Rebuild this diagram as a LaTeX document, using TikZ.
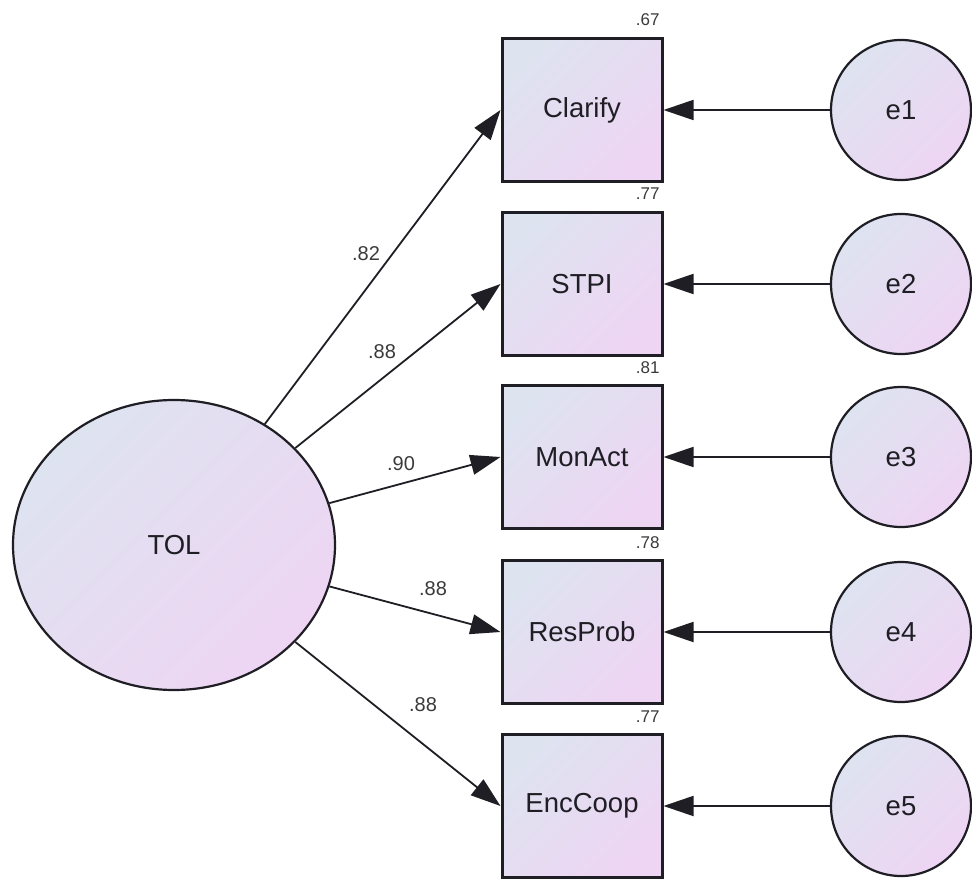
\documentclass[tikz,border=0pt]{standalone}
\usepackage{fontspec}
\setmainfont{Liberation Sans}
\usetikzlibrary{arrows.meta,shapes.geometric}
\definecolor{fillA}{HTML}{DEE3F0}
\definecolor{fillB}{HTML}{EED5F3}
\definecolor{ink}{HTML}{1E1E24}
\definecolor{lab}{HTML}{3A3A3A}
\begin{document}
\begin{tikzpicture}[x=1pt,y=-1pt,
  grad/.style={top color=fillA, bottom color=fillB, shading angle=45},
  obsbox/.style={rectangle, draw=ink, line width=3pt, grad, minimum width=160pt, minimum height=143pt, inner sep=0pt, font=\fontsize{27.5}{31}\selectfont, text=ink},
  latent/.style={ellipse, draw=ink, line width=2.2pt, grad, minimum width=322pt, minimum height=290pt, inner sep=0pt, font=\fontsize{27.5}{31}\selectfont, text=ink},
  errc/.style={circle, draw=ink, line width=2.2pt, grad, minimum size=140pt, inner sep=0pt, font=\fontsize{27.5}{31}\selectfont, text=ink},
  pathar/.style={draw=ink, line width=1.8pt, -{Triangle[length=30pt,width=20pt]}},
  coef/.style={font=\fontsize{20}{24}\selectfont, text=lab},
  rsq/.style={font=\fontsize{17}{20}\selectfont, text=lab, anchor=east}]
\useasboundingbox (0,0) rectangle (972,880);
\fill[white] (0,0) rectangle (972,880);

\node[latent] (tol) at (174,545) {TOL};

\node[obsbox] (clarify) at (582,110) {Clarify};
\node[obsbox] (stpi)    at (582,284) {STPI};
\node[obsbox] (monact)  at (582,457) {MonAct};
\node[obsbox] (resprob) at (582,632) {ResProb};
\node[obsbox] (enccoop) at (582,806) {EncCoop};

\node[errc] (e1) at (901,110) {e1};
\node[errc] (e2) at (901,284) {e2};
\node[errc] (e3) at (901,457) {e3};
\node[errc] (e4) at (901,632) {e4};
\node[errc] (e5) at (901,806) {e5};

\draw[pathar] (tol) -- (clarify.west);
\draw[pathar] (tol) -- (stpi.west);
\draw[pathar] (tol) -- (monact.west);
\draw[pathar] (tol) -- (resprob.west);
\draw[pathar] (tol) -- (enccoop.west);

\draw[pathar] (e1) -- (clarify.east);
\draw[pathar] (e2) -- (stpi.east);
\draw[pathar] (e3) -- (monact.east);
\draw[pathar] (e4) -- (resprob.east);
\draw[pathar] (e5) -- (enccoop.east);

\node[coef] (c1) at (366,254) {.82};
\node[coef] (c2) at (382,352) {.88};
\node[coef] (c3) at (401,464) {.90};
\node[coef] (c4) at (433,589) {.88};
\node[coef] (c5) at (423,705) {.88};

\node[rsq] (r1) at (663,20) {.67};
\node[rsq] (r2) at (663,194) {.77};
\node[rsq] (r3) at (663,368) {.81};
\node[rsq] (r4) at (663,543) {.78};
\node[rsq] (r5) at (663,717) {.77};
\end{tikzpicture}
\end{document}
